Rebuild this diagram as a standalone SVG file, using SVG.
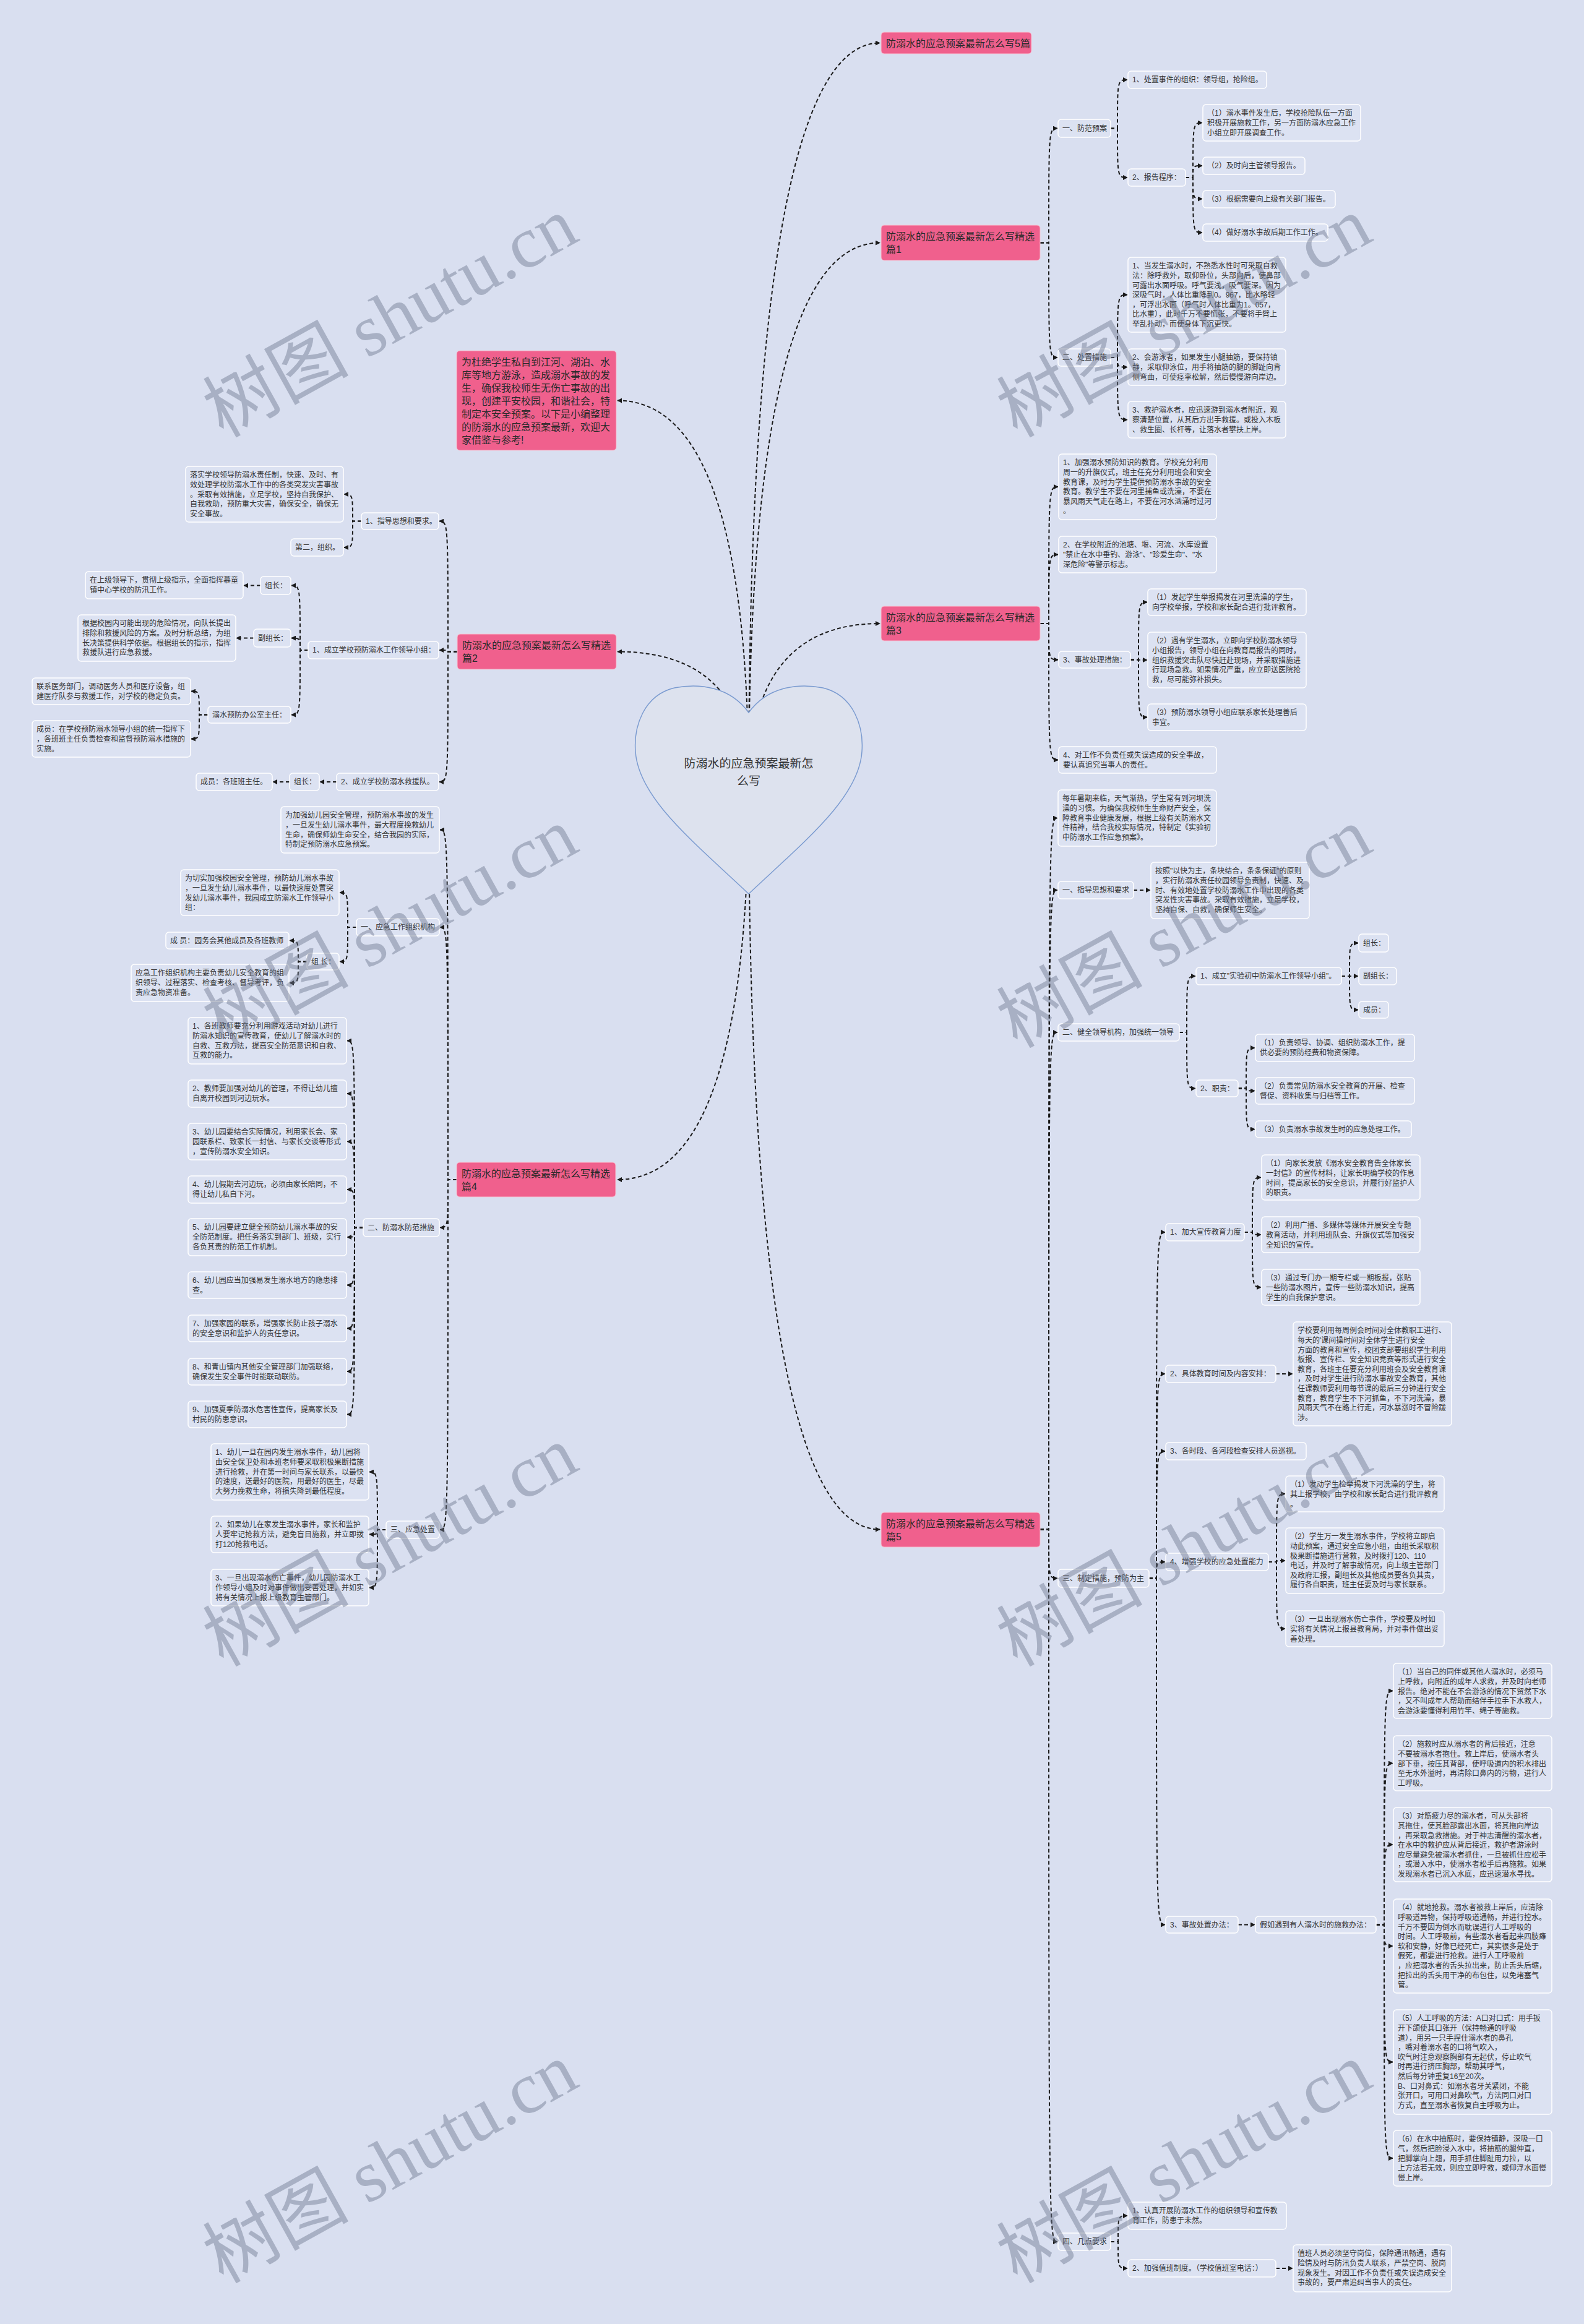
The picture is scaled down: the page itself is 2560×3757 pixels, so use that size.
<svg xmlns="http://www.w3.org/2000/svg" width="2560" height="3757" viewBox="0 0 2560 3757">
<defs>
<style>
.n{fill:#dce2f2;stroke:#ffffff;stroke-width:1.5}
.p{fill:#f0608d;stroke:#f7c3d3;stroke-width:1}
.t{font-family:"Liberation Sans","Noto Sans CJK SC",sans-serif;font-size:12px;fill:#333}
.tp{font-family:"Liberation Sans","Noto Sans CJK SC",sans-serif;font-size:16px;fill:#2a2a2a}
.th{font-family:"Liberation Sans","Noto Sans CJK SC",sans-serif;font-size:19px;fill:#333}
.c path{fill:none;stroke:#1a1a1a;stroke-width:2;stroke-dasharray:6 4;marker-end:url(#a)}
.w{font-family:"Liberation Serif","Noto Sans CJK SC",serif;font-size:118px;fill:#6e788f;opacity:0.45}
</style>
<marker id="a" viewBox="0 0 10 10" refX="9" refY="5" markerWidth="8" markerHeight="8" markerUnits="userSpaceOnUse" orient="auto"><path d="M0,0 L10,5 L0,10 z" fill="#1a1a1a"/></marker>
</defs>
<rect width="2560" height="3757" fill="#d9dff0"/>

<g id="connectors" class="c">
<path d="M1210 1275 Q1210 69.5 1422 69.5"/>
<path d="M1210 1275 Q1210 392.5 1422 392.5"/>
<path d="M1210 1275 Q1210 1008 1422 1008"/>
<path d="M1210 1275 Q1210 2472.5 1422 2472.5"/>
<path d="M1210 1275 Q1210 647.5 998 647.5"/>
<path d="M1210 1275 Q1210 1053.5 998 1053.5"/>
<path d="M1210 1275 Q1210 1907 998 1907"/>

<path d="M1681 392.5 H1695 C1695 207.5 1695 207.5 1709 207.5"/>
<path d="M1681 392.5 H1695 C1695 578 1695 578 1709 578"/>
<path d="M1795 207.5 H1806 C1806 129 1806 129 1822 129"/>
<path d="M1795 207.5 H1806 C1806 287 1806 287 1822 287"/>
<path d="M1916 287 H1928 C1928 198.5 1928 198.5 1943 198.5"/>
<path d="M1916 287 H1928 C1928 268 1928 268 1943 268"/>
<path d="M1916 287 H1928 C1928 321.5 1928 321.5 1943 321.5"/>
<path d="M1916 287 H1928 C1928 376 1928 376 1943 376"/>
<path d="M1795 578 H1806 C1806 476.5 1806 476.5 1822 476.5"/>
<path d="M1795 578 H1806 C1806 593.5 1806 593.5 1822 593.5"/>
<path d="M1795 578 H1806 C1806 678.5 1806 678.5 1822 678.5"/>

<path d="M1681 1008 H1695 C1695 787 1695 787 1710 787"/>
<path d="M1681 1008 H1695 C1695 896.5 1695 896.5 1710 896.5"/>
<path d="M1681 1008 H1695 C1695 1066.5 1695 1066.5 1710 1066.5"/>
<path d="M1681 1008 H1695 C1695 1228.5 1695 1228.5 1710 1228.5"/>
<path d="M1827 1066.5 H1840 C1840 973.5 1840 973.5 1854 973.5"/>
<path d="M1827 1066.5 H1840 C1840 1067 1840 1067 1854 1067"/>
<path d="M1827 1066.5 H1840 C1840 1159.5 1840 1159.5 1854 1159.5"/>

<path d="M1681 2472.5 H1695 C1695 1322.5 1695 1322.5 1709 1322.5"/>
<path d="M1681 2472.5 H1695 C1695 1439 1695 1439 1709 1439"/>
<path d="M1681 2472.5 H1695 C1695 1669 1695 1669 1709 1669"/>
<path d="M1681 2472.5 H1695 C1695 2551.5 1695 2551.5 1709 2551.5"/>
<path d="M1681 2472.5 H1695 C1695 3624 1695 3624 1709 3624"/>
<path d="M1832 1439 H1859"/>
<path d="M1906 1669 H1918 C1918 1578 1918 1578 1932 1578"/>
<path d="M1906 1669 H1918 C1918 1759.5 1918 1759.5 1932 1759.5"/>
<path d="M2168 1578 H2181 C2181 1524.5 2181 1524.5 2195 1524.5"/>
<path d="M2168 1578 H2181 C2181 1578 2181 1578 2195 1578"/>
<path d="M2168 1578 H2181 C2181 1632.5 2181 1632.5 2195 1632.5"/>
<path d="M2001 1759.5 H2014 C2014 1694 2014 1694 2028 1694"/>
<path d="M2001 1759.5 H2014 C2014 1763.5 2014 1763.5 2028 1763.5"/>
<path d="M2001 1759.5 H2014 C2014 1825.5 2014 1825.5 2028 1825.5"/>
<path d="M1857 2551.5 H1869 C1869 1992 1869 1992 1883 1992"/>
<path d="M1857 2551.5 H1869 C1869 2221 1869 2221 1883 2221"/>
<path d="M1857 2551.5 H1869 C1869 2346 1869 2346 1883 2346"/>
<path d="M1857 2551.5 H1869 C1869 2525 1869 2525 1883 2525"/>
<path d="M1857 2551.5 H1869 C1869 3111.5 1869 3111.5 1883 3111.5"/>
<path d="M2011 1992 H2024 C2024 1903.5 2024 1903.5 2038 1903.5"/>
<path d="M2011 1992 H2024 C2024 1996 2024 1996 2038 1996"/>
<path d="M2011 1992 H2024 C2024 2081 2024 2081 2038 2081"/>
<path d="M2062 2221 H2089"/>
<path d="M2050 2525 H2063 C2063 2415 2063 2415 2077 2415"/>
<path d="M2050 2525 H2063 C2063 2523 2063 2523 2077 2523"/>
<path d="M2050 2525 H2063 C2063 2633 2063 2633 2077 2633"/>
<path d="M2001 3111.5 H2028"/>
<path d="M2224 3111.5 H2237 C2237 2733.5 2237 2733.5 2251 2733.5"/>
<path d="M2224 3111.5 H2237 C2237 2850.5 2237 2850.5 2251 2850.5"/>
<path d="M2224 3111.5 H2237 C2237 2982 2237 2982 2251 2982"/>
<path d="M2224 3111.5 H2237 C2237 3146 2237 3146 2251 3146"/>
<path d="M2224 3111.5 H2237 C2237 3333.5 2237 3333.5 2251 3333.5"/>
<path d="M2224 3111.5 H2237 C2237 3489 2237 3489 2251 3489"/>
<path d="M1795 3624 H1807 C1807 3582 1807 3582 1822 3582"/>
<path d="M1795 3624 H1807 C1807 3667 1807 3667 1822 3667"/>
<path d="M2062 3667 H2089"/>

<path d="M739 1053.5 H724 C724 842.5 724 842.5 710 842.5"/>
<path d="M739 1053.5 H724 C724 1051 724 1051 710 1051"/>
<path d="M739 1053.5 H724 C724 1264 724 1264 710 1264"/>
<path d="M584 842.5 H570 C570 799 570 799 556 799"/>
<path d="M584 842.5 H570 C570 885 570 885 556 885"/>
<path d="M498 1051 H485 C485 946.5 485 946.5 471 946.5"/>
<path d="M498 1051 H485 C485 1031.5 485 1031.5 471 1031.5"/>
<path d="M498 1051 H485 C485 1155.5 485 1155.5 471 1155.5"/>
<path d="M421 946.5 H394"/>
<path d="M410 1031.5 H382"/>
<path d="M336 1155.5 H322 C322 1117.5 322 1117.5 309 1117.5"/>
<path d="M336 1155.5 H322 C322 1194.5 322 1194.5 309 1194.5"/>
<path d="M544 1264 H517"/>
<path d="M468 1264 H441"/>

<path d="M738 1907 H724 C724 1341.5 724 1341.5 711 1341.5"/>
<path d="M738 1907 H724 C724 1499 724 1499 711 1499"/>
<path d="M738 1907 H724 C724 1984.5 724 1984.5 711 1984.5"/>
<path d="M738 1907 H724 C724 2473 724 2473 711 2473"/>
<path d="M576 1499 H562 C562 1443 562 1443 549 1443"/>
<path d="M576 1499 H562 C562 1554.5 562 1554.5 549 1554.5"/>
<path d="M496 1554.5 H482 C482 1520.5 482 1520.5 468 1520.5"/>
<path d="M496 1554.5 H482 C482 1589 482 1589 468 1589"/>
<path d="M587 1984.5 H573 C573 1682.5 573 1682.5 561 1682.5"/>
<path d="M587 1984.5 H573 C573 1768 573 1768 561 1768"/>
<path d="M587 1984.5 H573 C573 1845.5 573 1845.5 561 1845.5"/>
<path d="M587 1984.5 H573 C573 1923 573 1923 561 1923"/>
<path d="M587 1984.5 H573 C573 2000 573 2000 561 2000"/>
<path d="M587 1984.5 H573 C573 2077.5 573 2077.5 561 2077.5"/>
<path d="M587 1984.5 H573 C573 2147.5 573 2147.5 561 2147.5"/>
<path d="M587 1984.5 H573 C573 2217 573 2217 561 2217"/>
<path d="M587 1984.5 H573 C573 2286.5 573 2286.5 561 2286.5"/>
<path d="M624 2473 H610 C610 2379.5 610 2379.5 597 2379.5"/>
<path d="M624 2473 H610 C610 2480.5 610 2480.5 597 2480.5"/>
<path d="M624 2473 H610 C610 2566.5 610 2566.5 597 2566.5"/>
</g>

<g id="center">
<path d="M1210 1152 C1180 1110 1130 1104 1090 1112 C1040 1124 1024 1175 1027 1215 C1032 1290 1120 1360 1210 1445 C1300 1360 1388 1290 1393 1215 C1396 1175 1380 1124 1330 1112 C1290 1104 1240 1110 1210 1152 Z" fill="#dde2ee" stroke="#7b9bd0" stroke-width="1.5"/>
<text class="th" text-anchor="middle" x="1210" y="1241"><tspan x="1210">防溺水的应急预案最新怎</tspan><tspan x="1210" dy="28">么写</tspan></text>
</g>

<g id="b5top"><rect class="p" x="1424" y="52" width="243" height="35" rx="5"/><text class="tp" x="1432" y="75.5">防溺水的应急预案最新怎么写5篇</text></g>

<g id="b1"><rect class="p" x="1424" y="364" width="257" height="57" rx="5"/><text class="tp" x="1432" y="388"><tspan x="1432">防溺水的应急预案最新怎么写精选</tspan><tspan x="1432" dy="21">篇1</tspan></text></g>
<g id="b1-1"><rect class="n" x="1710" y="193" width="85" height="29" rx="5"/><text class="t" x="1717" y="212">一、防范预案</text></g>
<g id="b1-1-1"><rect class="n" x="1823" y="115" width="224" height="28" rx="5"/><text class="t" x="1830" y="133.4">1、处置事件的组织：领导组，抢险组。</text></g>
<g id="b1-1-2"><rect class="n" x="1823" y="273" width="93" height="28" rx="5"/><text class="t" x="1830" y="291.4">2、报告程序：</text></g>
<g id="b1-1-2-1"><rect class="n" x="1944" y="169" width="255" height="59" rx="5"/><text class="t" x="1951" y="187.4"><tspan x="1951">（1）溺水事件发生后，学校抢险队伍一方面</tspan><tspan x="1951" dy="15.6">积极开展施救工作，另一方面防溺水应急工作</tspan><tspan x="1951" dy="15.6">小组立即开展调查工作。</tspan></text></g>
<g id="b1-1-2-2"><rect class="n" x="1944" y="254" width="165" height="28" rx="5"/><text class="t" x="1951" y="272.4">（2）及时向主管领导报告。</text></g>
<g id="b1-1-2-3"><rect class="n" x="1944" y="308" width="214" height="28" rx="5"/><text class="t" x="1951" y="326.4">（3）根据需要向上级有关部门报告。</text></g>
<g id="b1-1-2-4"><rect class="n" x="1944" y="362" width="202" height="28" rx="5"/><text class="t" x="1951" y="380.4">（4）做好溺水事故后期工作工作。</text></g>
<g id="b1-2"><rect class="n" x="1710" y="564" width="85" height="28" rx="5"/><text class="t" x="1717" y="582.4">二、处置措施</text></g>
<g id="b1-2-1"><rect class="n" x="1823" y="416" width="255" height="121" rx="5"/><text class="t" x="1830" y="434.4"><tspan x="1830">1、当发生溺水时，不熟悉水性时可采取自救</tspan><tspan x="1830" dy="15.6">法：除呼救外，取仰卧位，头部向后，使鼻部</tspan><tspan x="1830" dy="15.6">可露出水面呼吸。呼气要浅，吸气要深。因为</tspan><tspan x="1830" dy="15.6">深吸气时，人体比重降到0。967，比水略轻</tspan><tspan x="1830" dy="15.6">，可浮出水面（呼气时人体比重为1。057，</tspan><tspan x="1830" dy="15.6">比水重），此时千万不要慌张，不要将手臂上</tspan><tspan x="1830" dy="15.6">举乱扑动，而使身体下沉更快。</tspan></text></g>
<g id="b1-2-2"><rect class="n" x="1823" y="564" width="255" height="59" rx="5"/><text class="t" x="1830" y="582.4"><tspan x="1830">2、会游泳者，如果发生小腿抽筋，要保持镇</tspan><tspan x="1830" dy="15.6">静，采取仰泳位，用手将抽筋的腿的脚趾向背</tspan><tspan x="1830" dy="15.6">侧弯曲，可使痉挛松解，然后慢慢游向岸边。</tspan></text></g>
<g id="b1-2-3"><rect class="n" x="1823" y="649" width="255" height="59" rx="5"/><text class="t" x="1830" y="667.4"><tspan x="1830">3、救护溺水者，应迅速游到溺水者附近，观</tspan><tspan x="1830" dy="15.6">察清楚位置，从其后方出手救援。或投入木板</tspan><tspan x="1830" dy="15.6">、救生圈、长杆等，让落水者攀扶上岸。</tspan></text></g>

<g id="b3"><rect class="p" x="1424" y="980" width="257" height="56" rx="5"/><text class="tp" x="1432" y="1004"><tspan x="1432">防溺水的应急预案最新怎么写精选</tspan><tspan x="1432" dy="21">篇3</tspan></text></g>
<g id="b3-1"><rect class="n" x="1711" y="734" width="255" height="106" rx="5"/><text class="t" x="1718" y="752.4"><tspan x="1718">1、加强溺水预防知识的教育。学校充分利用</tspan><tspan x="1718" dy="15.6">周一的升旗仪式，班主任充分利用班会和安全</tspan><tspan x="1718" dy="15.6">教育课，及时为学生提供预防溺水事故的安全</tspan><tspan x="1718" dy="15.6">教育。教学生不要在河里捕鱼或洗澡，不要在</tspan><tspan x="1718" dy="15.6">暴风雨天气走在路上，不要在河水汹涌时过河</tspan><tspan x="1718" dy="15.6">。</tspan></text></g>
<g id="b3-2"><rect class="n" x="1711" y="867" width="255" height="59" rx="5"/><text class="t" x="1718" y="885.4"><tspan x="1718">2、在学校附近的池塘、堰、河流、水库设置</tspan><tspan x="1718" dy="15.6">"禁止在水中垂钓、游泳"、"珍爱生命"、"水</tspan><tspan x="1718" dy="15.6">深危险"等警示标志。</tspan></text></g>
<g id="b3-3"><rect class="n" x="1711" y="1053" width="116" height="27" rx="5"/><text class="t" x="1718" y="1071">3、事故处理措施：</text></g>
<g id="b3-3-1"><rect class="n" x="1855" y="952" width="256" height="43" rx="5"/><text class="t" x="1862" y="970.4"><tspan x="1862">（1）发起学生举报揭发在河里洗澡的学生，</tspan><tspan x="1862" dy="15.6">向学校举报，学校和家长配合进行批评教育。</tspan></text></g>
<g id="b3-3-2"><rect class="n" x="1855" y="1022" width="256" height="90" rx="5"/><text class="t" x="1862" y="1040.4"><tspan x="1862">（2）遇有学生溺水，立即向学校防溺水领导</tspan><tspan x="1862" dy="15.6">小组报告，领导小组在向教育局报告的同时，</tspan><tspan x="1862" dy="15.6">组织救援突击队尽快赶赴现场，并采取措施进</tspan><tspan x="1862" dy="15.6">行现场急救。如果情况严重，应立即送医院抢</tspan><tspan x="1862" dy="15.6">救，尽可能弥补损失。</tspan></text></g>
<g id="b3-3-3"><rect class="n" x="1855" y="1138" width="256" height="43" rx="5"/><text class="t" x="1862" y="1156.4"><tspan x="1862">（3）预防溺水领导小组应联系家长处理善后</tspan><tspan x="1862" dy="15.6">事宜。</tspan></text></g>
<g id="b3-4"><rect class="n" x="1711" y="1207" width="255" height="43" rx="5"/><text class="t" x="1718" y="1225.4"><tspan x="1718">4、对工作不负责任或失误造成的安全事故，</tspan><tspan x="1718" dy="15.6">要认真追究当事人的责任。</tspan></text></g>

<g id="b5"><rect class="p" x="1424" y="2445" width="257" height="56" rx="5"/><text class="tp" x="1432" y="2469"><tspan x="1432">防溺水的应急预案最新怎么写精选</tspan><tspan x="1432" dy="21">篇5</tspan></text></g>
<g id="b5-0"><rect class="n" x="1710" y="1277" width="256" height="91" rx="5"/><text class="t" x="1717" y="1295.4"><tspan x="1717">每年暑期来临，天气渐热，学生常有到河坝洗</tspan><tspan x="1717" dy="15.6">澡的习惯。为确保我校师生生命财产安全，保</tspan><tspan x="1717" dy="15.6">障教育事业健康发展，根据上级有关防溺水文</tspan><tspan x="1717" dy="15.6">件精神，结合我校实际情况，特制定《实验初</tspan><tspan x="1717" dy="15.6">中防溺水工作应急预案》。</tspan></text></g>
<g id="b5-1"><rect class="n" x="1710" y="1425" width="122" height="28" rx="5"/><text class="t" x="1717" y="1443.4">一、指导思想和要求</text></g>
<g id="b5-1-1"><rect class="n" x="1860" y="1394" width="256" height="91" rx="5"/><text class="t" x="1867" y="1412.4"><tspan x="1867">按照"以快为主，条块结合，条条保证"的原则</tspan><tspan x="1867" dy="15.6">，实行防溺水责任校园领导负责制，快速、及</tspan><tspan x="1867" dy="15.6">时、有效地处置学校防溺水工作中出现的各类</tspan><tspan x="1867" dy="15.6">突发性灾害事故。采取有效措施，立足学校，</tspan><tspan x="1867" dy="15.6">坚持自保、自救，确保师生安全。</tspan></text></g>
<g id="b5-2"><rect class="n" x="1710" y="1655" width="196" height="28" rx="5"/><text class="t" x="1717" y="1673.4">二、健全领导机构，加强统一领导</text></g>
<g id="b5-2-1"><rect class="n" x="1933" y="1564" width="235" height="28" rx="5"/><text class="t" x="1940" y="1582.4">1、成立"实验初中防溺水工作领导小组"。</text></g>
<g id="b5-2-1-1"><rect class="n" x="2196" y="1510" width="48" height="29" rx="5"/><text class="t" x="2203" y="1529">组长：</text></g>
<g id="b5-2-1-2"><rect class="n" x="2196" y="1564" width="61" height="28" rx="5"/><text class="t" x="2203" y="1582.4">副组长：</text></g>
<g id="b5-2-1-3"><rect class="n" x="2196" y="1619" width="48" height="27" rx="5"/><text class="t" x="2203" y="1637">成员：</text></g>
<g id="b5-2-2"><rect class="n" x="1933" y="1746" width="68" height="27" rx="5"/><text class="t" x="1940" y="1764">2、职责：</text></g>
<g id="b5-2-2-1"><rect class="n" x="2029" y="1672" width="257" height="44" rx="5"/><text class="t" x="2036" y="1690.4"><tspan x="2036">（1）负责领导、协调、组织防溺水工作，提</tspan><tspan x="2036" dy="15.6">供必要的预防经费和物资保障。</tspan></text></g>
<g id="b5-2-2-2"><rect class="n" x="2029" y="1742" width="257" height="43" rx="5"/><text class="t" x="2036" y="1760.4"><tspan x="2036">（2）负责常见防溺水安全教育的开展、检查</tspan><tspan x="2036" dy="15.6">督促、资料收集与归档等工作。</tspan></text></g>
<g id="b5-2-2-3"><rect class="n" x="2029" y="1812" width="252" height="27" rx="5"/><text class="t" x="2036" y="1830">（3）负责溺水事故发生时的应急处理工作。</text></g>
<g id="b5-3"><rect class="n" x="1710" y="2537" width="147" height="29" rx="5"/><text class="t" x="1717" y="2556">三、制定措施，预防为主</text></g>
<g id="b5-3-1"><rect class="n" x="1884" y="1978" width="127" height="28" rx="5"/><text class="t" x="1891" y="1996.4">1、加大宣传教育力度</text></g>
<g id="b5-3-1-1"><rect class="n" x="2039" y="1867" width="256" height="73" rx="5"/><text class="t" x="2046" y="1885.4"><tspan x="2046">（1）向家长发放《溺水安全教育告全体家长</tspan><tspan x="2046" dy="15.6">一封信》的宣传材料，让家长明确学校的作息</tspan><tspan x="2046" dy="15.6">时间，提高家长的安全意识，并履行好监护人</tspan><tspan x="2046" dy="15.6">的职责。</tspan></text></g>
<g id="b5-3-1-2"><rect class="n" x="2039" y="1967" width="256" height="58" rx="5"/><text class="t" x="2046" y="1985.4"><tspan x="2046">（2）利用广播、多媒体等媒体开展安全专题</tspan><tspan x="2046" dy="15.6">教育活动，并利用班队会、升旗仪式等加强安</tspan><tspan x="2046" dy="15.6">全知识的宣传。</tspan></text></g>
<g id="b5-3-1-3"><rect class="n" x="2039" y="2052" width="256" height="58" rx="5"/><text class="t" x="2046" y="2070.4"><tspan x="2046">（3）通过专门办一期专栏或一期板报，张贴</tspan><tspan x="2046" dy="15.6">一些防溺水图片，宣传一些防溺水知识，提高</tspan><tspan x="2046" dy="15.6">学生的自我保护意识。</tspan></text></g>
<g id="b5-3-2"><rect class="n" x="1884" y="2207" width="178" height="28" rx="5"/><text class="t" x="1891" y="2225.4">2、具体教育时间及内容安排：</text></g>
<g id="b5-3-2-1"><rect class="n" x="2090" y="2137" width="256" height="168" rx="5"/><text class="t" x="2097" y="2155.4"><tspan x="2097">学校要利用每周例会时间对全体教职工进行、</tspan><tspan x="2097" dy="15.6">每天的'课间操时间对全体学生进行安全</tspan><tspan x="2097" dy="15.6">方面的教育和宣传，校团支部要组织学生利用</tspan><tspan x="2097" dy="15.6">板报、宣传栏、安全知识竞赛等形式进行安全</tspan><tspan x="2097" dy="15.6">教育，各班主任要充分利用班会及安全教育课</tspan><tspan x="2097" dy="15.6">，及时对学生进行防溺水事故安全教育，其他</tspan><tspan x="2097" dy="15.6">任课教师要利用每节课的最后三分钟进行安全</tspan><tspan x="2097" dy="15.6">教育，教育学生不下河抓鱼，不下河洗澡，暴</tspan><tspan x="2097" dy="15.6">风雨天气不在路上行走，河水暴涨时不冒险跋</tspan><tspan x="2097" dy="15.6">涉。</tspan></text></g>
<g id="b5-3-3"><rect class="n" x="1884" y="2332" width="227" height="28" rx="5"/><text class="t" x="1891" y="2350.4">3、各时段、各河段检查安排人员巡视。</text></g>
<g id="b5-3-4"><rect class="n" x="1884" y="2511" width="166" height="28" rx="5"/><text class="t" x="1891" y="2529.4">4、增强学校的应急处置能力</text></g>
<g id="b5-3-4-1"><rect class="n" x="2078" y="2386" width="256" height="58" rx="5"/><text class="t" x="2085" y="2404.4"><tspan x="2085">（1）发动学生检举揭发下河洗澡的学生，将</tspan><tspan x="2085" dy="15.6">其上报学校，由学校和家长配合进行批评教育</tspan><tspan x="2085" dy="15.6">。</tspan></text></g>
<g id="b5-3-4-2"><rect class="n" x="2078" y="2470" width="256" height="106" rx="5"/><text class="t" x="2085" y="2488.4"><tspan x="2085">（2）学生万一发生溺水事件，学校将立即启</tspan><tspan x="2085" dy="15.6">动此预案，通过安全应急小组，由组长采取积</tspan><tspan x="2085" dy="15.6">极果断措施进行营救，及时拨打120、110</tspan><tspan x="2085" dy="15.6">电话，并及时了解事故情况，向上级主管部门</tspan><tspan x="2085" dy="15.6">及政府汇报，副组长及其他成员要各负其责，</tspan><tspan x="2085" dy="15.6">履行各自职责，班主任要及时与家长联系。</tspan></text></g>
<g id="b5-3-4-3"><rect class="n" x="2078" y="2604" width="256" height="58" rx="5"/><text class="t" x="2085" y="2622.4"><tspan x="2085">（3）一旦出现溺水伤亡事件，学校要及时如</tspan><tspan x="2085" dy="15.6">实将有关情况上报县教育局，并对事件做出妥</tspan><tspan x="2085" dy="15.6">善处理。</tspan></text></g>
<g id="b5-3-5"><rect class="n" x="1884" y="3098" width="117" height="27" rx="5"/><text class="t" x="1891" y="3116">3、事故处置办法：</text></g>
<g id="b5-3-5-1"><rect class="n" x="2029" y="3098" width="195" height="27" rx="5"/><text class="t" x="2036" y="3116">假如遇到有人溺水时的施救办法：</text></g>
<g id="r1"><rect class="n" x="2252" y="2689" width="256" height="89" rx="5"/><text class="t" x="2259" y="2707.4"><tspan x="2259">（1）当自己的同伴或其他人溺水时，必须马</tspan><tspan x="2259" dy="15.6">上呼救，向附近的成年人求救，并及时向老师</tspan><tspan x="2259" dy="15.6">报告。绝对不能在不会游泳的情况下贸然下水</tspan><tspan x="2259" dy="15.6">，又不叫成年人帮助而结伴手拉手下水救人，</tspan><tspan x="2259" dy="15.6">会游泳要懂得利用竹竿、绳子等施救。</tspan></text></g>
<g id="r2"><rect class="n" x="2252" y="2806" width="256" height="89" rx="5"/><text class="t" x="2259" y="2824.4"><tspan x="2259">（2）施救时应从溺水者的背后接近，注意</tspan><tspan x="2259" dy="15.6">不要被溺水者抱住。救上岸后，使溺水者头</tspan><tspan x="2259" dy="15.6">部下垂，按压其背部，使呼吸道内的积水排出</tspan><tspan x="2259" dy="15.6">至无水外溢时，再清除口鼻内的污物，进行人</tspan><tspan x="2259" dy="15.6">工呼吸。</tspan></text></g>
<g id="r3"><rect class="n" x="2252" y="2922" width="256" height="120" rx="5"/><text class="t" x="2259" y="2940.4"><tspan x="2259">（3）对筋疲力尽的溺水者，可从头部将</tspan><tspan x="2259" dy="15.6">其拖住，使其脸部露出水面，将其拖向岸边</tspan><tspan x="2259" dy="15.6">，再采取急救措施。对于神志清醒的溺水者，</tspan><tspan x="2259" dy="15.6">在水中的救护应从背后接近，救护者游泳时</tspan><tspan x="2259" dy="15.6">应尽量避免被溺水者抓住，一旦被抓住应松手</tspan><tspan x="2259" dy="15.6">，或潜入水中，使溺水者松手后再施救。如果</tspan><tspan x="2259" dy="15.6">发现溺水者已沉入水底，应迅速潜水寻找。</tspan></text></g>
<g id="r4"><rect class="n" x="2252" y="3070" width="256" height="152" rx="5"/><text class="t" x="2259" y="3088.4"><tspan x="2259">（4）就地抢救。溺水者被救上岸后，应清除</tspan><tspan x="2259" dy="15.6">呼吸道异物，保持呼吸道通畅，并进行控水。</tspan><tspan x="2259" dy="15.6">千万不要因为倒水而耽误进行人工呼吸的</tspan><tspan x="2259" dy="15.6">时间。人工呼吸前，有些溺水者看起来四肢瘫</tspan><tspan x="2259" dy="15.6">软和安静，好像已经死亡，其实很多是处于</tspan><tspan x="2259" dy="15.6">假死，都要进行抢救。进行人工呼吸前</tspan><tspan x="2259" dy="15.6">，应把溺水者的舌头拉出来，防止舌头后缩，</tspan><tspan x="2259" dy="15.6">把拉出的舌头用干净的布包住，以免堵塞气</tspan><tspan x="2259" dy="15.6">管。</tspan></text></g>
<g id="r5"><rect class="n" x="2252" y="3249" width="256" height="169" rx="5"/><text class="t" x="2259" y="3267.4"><tspan x="2259">（5）人工呼吸的方法：A口对口式：用手扳</tspan><tspan x="2259" dy="15.6">开下颌使其口张开（保持畅通的呼吸</tspan><tspan x="2259" dy="15.6">道），用另一只手捏住溺水者的鼻孔</tspan><tspan x="2259" dy="15.6">，嘴对着溺水者的口将气吹入，</tspan><tspan x="2259" dy="15.6">吹气时注意观察胸部有无起伏，停止吹气</tspan><tspan x="2259" dy="15.6">时再进行挤压胸部，帮助其呼气，</tspan><tspan x="2259" dy="15.6">然后每分钟重复16至20次。</tspan><tspan x="2259" dy="15.6">B、口对鼻式：如溺水者牙关紧闭，不能</tspan><tspan x="2259" dy="15.6">张开口，可用口对鼻吹气，方法同口对口</tspan><tspan x="2259" dy="15.6">方式，直至溺水者恢复自主呼吸为止。</tspan></text></g>
<g id="r6"><rect class="n" x="2252" y="3444" width="256" height="90" rx="5"/><text class="t" x="2259" y="3462.4"><tspan x="2259">（6）在水中抽筋时，要保持镇静，深吸一口</tspan><tspan x="2259" dy="15.6">气，然后把脸浸入水中，将抽筋的腿伸直，</tspan><tspan x="2259" dy="15.6">把脚掌向上翘，用手抓住脚趾用力拉，以</tspan><tspan x="2259" dy="15.6">上方法若无效，则应立即呼救，或仰浮水面慢</tspan><tspan x="2259" dy="15.6">慢上岸。</tspan></text></g>
<g id="b5-4"><rect class="n" x="1710" y="3610" width="85" height="28" rx="5"/><text class="t" x="1717" y="3628.4">四、几点要求</text></g>
<g id="b5-4-1"><rect class="n" x="1823" y="3560" width="256" height="44" rx="5"/><text class="t" x="1830" y="3578.4"><tspan x="1830">1、认真开展防溺水工作的组织领导和宣传教</tspan><tspan x="1830" dy="15.6">育工作，防患于未然。</tspan></text></g>
<g id="b5-4-2"><rect class="n" x="1823" y="3653" width="239" height="28" rx="5"/><text class="t" x="1830" y="3671.4">2、加强值班制度。（学校值班室电话：）</text></g>
<g id="b5-4-2-1"><rect class="n" x="2090" y="3629" width="256" height="76" rx="5"/><text class="t" x="2097" y="3647.4"><tspan x="2097">值班人员必须坚守岗位，保障通讯畅通，遇有</tspan><tspan x="2097" dy="15.6">险情及时与防汛负责人联系，严禁空岗、脱岗</tspan><tspan x="2097" dy="15.6">现象发生。对因工作不负责任或失误造成安全</tspan><tspan x="2097" dy="15.6">事故的，要严肃追纠当事人的责任。</tspan></text></g>

<g id="intro"><rect class="p" x="738" y="567" width="258" height="161" rx="5"/><text class="tp" x="746" y="591"><tspan x="746">为杜绝学生私自到江河、湖泊、水</tspan><tspan x="746" dy="21">库等地方游泳，造成溺水事故的发</tspan><tspan x="746" dy="21">生，确保我校师生无伤亡事故的出</tspan><tspan x="746" dy="21">现，创建平安校园，和谐社会，特</tspan><tspan x="746" dy="21">制定本安全预案。以下是小编整理</tspan><tspan x="746" dy="21">的防溺水的应急预案最新，欢迎大</tspan><tspan x="746" dy="21">家借鉴与参考!</tspan></text></g>

<g id="b2"><rect class="p" x="739" y="1025" width="257" height="57" rx="5"/><text class="tp" x="747" y="1049"><tspan x="747">防溺水的应急预案最新怎么写精选</tspan><tspan x="747" dy="21">篇2</tspan></text></g>
<g id="b2-1"><rect class="n" x="584" y="829" width="125" height="27" rx="5"/><text class="t" x="591" y="847">1、指导思想和要求。</text></g>
<g id="b2-1-1"><rect class="n" x="300" y="754" width="255" height="90" rx="5"/><text class="t" x="307" y="772.4"><tspan x="307">落实学校领导防溺水责任制，快速、及时、有</tspan><tspan x="307" dy="15.6">效处理学校防溺水工作中的各类突发灾害事故</tspan><tspan x="307" dy="15.6">。采取有效措施，立足学校，坚持自我保护、</tspan><tspan x="307" dy="15.6">自我救助，预防重大灾害，确保安全，确保无</tspan><tspan x="307" dy="15.6">安全事故。</tspan></text></g>
<g id="b2-1-2"><rect class="n" x="470" y="871" width="85" height="28" rx="5"/><text class="t" x="477" y="889.4">第二，组织。</text></g>
<g id="b2-2"><rect class="n" x="498" y="1037" width="211" height="28" rx="5"/><text class="t" x="505" y="1055.4">1、成立学校预防溺水工作领导小组：</text></g>
<g id="b2-2-1"><rect class="n" x="421" y="932" width="49" height="29" rx="5"/><text class="t" x="428" y="951">组长：</text></g>
<g id="b2-2-1-1"><rect class="n" x="138" y="924" width="255" height="44" rx="5"/><text class="t" x="145" y="942.4"><tspan x="145">在上级领导下，贯彻上级指示，全面指挥慕童</tspan><tspan x="145" dy="15.6">镇中心学校的防汛工作。</tspan></text></g>
<g id="b2-2-2"><rect class="n" x="410" y="1017" width="60" height="29" rx="5"/><text class="t" x="417" y="1036">副组长：</text></g>
<g id="b2-2-2-1"><rect class="n" x="126" y="994" width="255" height="75" rx="5"/><text class="t" x="133" y="1012.4"><tspan x="133">根据校园内可能出现的危险情况，向队长提出</tspan><tspan x="133" dy="15.6">排除和救援风险的方案。及时分析总结，为组</tspan><tspan x="133" dy="15.6">长决策提供科学依据。根据组长的指示，指挥</tspan><tspan x="133" dy="15.6">救援队进行应急救援。</tspan></text></g>
<g id="b2-2-3"><rect class="n" x="336" y="1142" width="134" height="27" rx="5"/><text class="t" x="343" y="1160">溺水预防办公室主任：</text></g>
<g id="b2-2-3-1"><rect class="n" x="52" y="1096" width="256" height="43" rx="5"/><text class="t" x="59" y="1114.4"><tspan x="59">联系医务部门，调动医务人员和医疗设备，组</tspan><tspan x="59" dy="15.6">建医疗队参与救援工作，对学校的稳定负责。</tspan></text></g>
<g id="b2-2-3-2"><rect class="n" x="52" y="1165" width="256" height="59" rx="5"/><text class="t" x="59" y="1183.4"><tspan x="59">成员：在学校预防溺水领导小组的统一指挥下</tspan><tspan x="59" dy="15.6">，各班班主任负责检查和监督预防溺水措施的</tspan><tspan x="59" dy="15.6">实施。</tspan></text></g>
<g id="b2-3"><rect class="n" x="544" y="1250" width="165" height="28" rx="5"/><text class="t" x="551" y="1268.4">2、成立学校防溺水救援队。</text></g>
<g id="b2-3-1"><rect class="n" x="468" y="1250" width="48" height="28" rx="5"/><text class="t" x="475" y="1268.4">组长：</text></g>
<g id="b2-3-1-1"><rect class="n" x="317" y="1250" width="123" height="28" rx="5"/><text class="t" x="324" y="1268.4">成员：各班班主任。</text></g>

<g id="b4"><rect class="p" x="738" y="1879" width="257" height="56" rx="5"/><text class="tp" x="746" y="1903"><tspan x="746">防溺水的应急预案最新怎么写精选</tspan><tspan x="746" dy="21">篇4</tspan></text></g>
<g id="b4-0"><rect class="n" x="454" y="1304" width="256" height="75" rx="5"/><text class="t" x="461" y="1322.4"><tspan x="461">为加强幼儿园安全管理，预防溺水事故的发生</tspan><tspan x="461" dy="15.6">，一旦发生幼儿溺水事件，最大程度挽救幼儿</tspan><tspan x="461" dy="15.6">生命，确保师幼生命安全，结合我园的实际，</tspan><tspan x="461" dy="15.6">特制定预防溺水应急预案。</tspan></text></g>
<g id="b4-1"><rect class="n" x="576" y="1485" width="134" height="28" rx="5"/><text class="t" x="583" y="1503.4">一、应急工作组织机构</text></g>
<g id="b4-1-1"><rect class="n" x="292" y="1406" width="256" height="74" rx="5"/><text class="t" x="299" y="1424.4"><tspan x="299">为切实加强校园安全管理，预防幼儿溺水事故</tspan><tspan x="299" dy="15.6">，一旦发生幼儿溺水事件，以最快速度处置突</tspan><tspan x="299" dy="15.6">发幼儿溺水事件，我园成立防溺水工作领导小</tspan><tspan x="299" dy="15.6">组：</tspan></text></g>
<g id="b4-1-2"><rect class="n" x="496" y="1541" width="52" height="27" rx="5"/><text class="t" x="503" y="1559">组 长：</text></g>
<g id="b4-1-2-1"><rect class="n" x="268" y="1507" width="199" height="27" rx="5"/><text class="t" x="275" y="1525">成 员：园务会其他成员及各班教师</text></g>
<g id="b4-1-2-2"><rect class="n" x="212" y="1559" width="255" height="60" rx="5"/><text class="t" x="219" y="1577.4"><tspan x="219">应急工作组织机构主要负责幼儿安全教育的组</tspan><tspan x="219" dy="15.6">织领导、过程落实、检查考核、督导考评，负</tspan><tspan x="219" dy="15.6">责应急物资准备。</tspan></text></g>
<g id="b4-2"><rect class="n" x="587" y="1970" width="123" height="29" rx="5"/><text class="t" x="594" y="1989">二、防溺水防范措施</text></g>
<g id="b4-2-1"><rect class="n" x="304" y="1645" width="256" height="75" rx="5"/><text class="t" x="311" y="1663.4"><tspan x="311">1、各班教师要充分利用游戏活动对幼儿进行</tspan><tspan x="311" dy="15.6">防溺水知识的宣传教育，使幼儿了解溺水时的</tspan><tspan x="311" dy="15.6">自救、互救方法，提高安全防范意识和自救、</tspan><tspan x="311" dy="15.6">互救的能力。</tspan></text></g>
<g id="b4-2-2"><rect class="n" x="304" y="1746" width="256" height="44" rx="5"/><text class="t" x="311" y="1764.4"><tspan x="311">2、教师要加强对幼儿的管理，不得让幼儿擅</tspan><tspan x="311" dy="15.6">自离开校园到河边玩水。</tspan></text></g>
<g id="b4-2-3"><rect class="n" x="304" y="1816" width="256" height="59" rx="5"/><text class="t" x="311" y="1834.4"><tspan x="311">3、幼儿园要结合实际情况，利用家长会、家</tspan><tspan x="311" dy="15.6">园联系栏、致家长一封信、与家长交谈等形式</tspan><tspan x="311" dy="15.6">，宣传防溺水安全知识。</tspan></text></g>
<g id="b4-2-4"><rect class="n" x="304" y="1901" width="256" height="44" rx="5"/><text class="t" x="311" y="1919.4"><tspan x="311">4、幼儿假期去河边玩，必须由家长陪同，不</tspan><tspan x="311" dy="15.6">得让幼儿私自下河。</tspan></text></g>
<g id="b4-2-5"><rect class="n" x="304" y="1970" width="256" height="60" rx="5"/><text class="t" x="311" y="1988.4"><tspan x="311">5、幼儿园要建立健全预防幼儿溺水事故的安</tspan><tspan x="311" dy="15.6">全防范制度。把任务落实到部门、班级，实行</tspan><tspan x="311" dy="15.6">各负其责的防范工作机制。</tspan></text></g>
<g id="b4-2-6"><rect class="n" x="304" y="2056" width="256" height="43" rx="5"/><text class="t" x="311" y="2074.4"><tspan x="311">6、幼儿园应当加强易发生溺水地方的隐患排</tspan><tspan x="311" dy="15.6">查。</tspan></text></g>
<g id="b4-2-7"><rect class="n" x="304" y="2126" width="256" height="43" rx="5"/><text class="t" x="311" y="2144.4"><tspan x="311">7、加强家园的联系，增强家长防止孩子溺水</tspan><tspan x="311" dy="15.6">的安全意识和监护人的责任意识。</tspan></text></g>
<g id="b4-2-8"><rect class="n" x="304" y="2196" width="256" height="43" rx="5"/><text class="t" x="311" y="2214.4"><tspan x="311">8、和青山镇内其他安全管理部门加强联络，</tspan><tspan x="311" dy="15.6">确保发生安全事件时能联动联防。</tspan></text></g>
<g id="b4-2-9"><rect class="n" x="304" y="2265" width="256" height="43" rx="5"/><text class="t" x="311" y="2283.4"><tspan x="311">9、加强夏季防溺水危害性宣传，提高家长及</tspan><tspan x="311" dy="15.6">村民的防患意识。</tspan></text></g>
<g id="b4-3"><rect class="n" x="624" y="2459" width="86" height="28" rx="5"/><text class="t" x="631" y="2477.4">三、应急处置</text></g>
<g id="b4-3-1"><rect class="n" x="341" y="2334" width="255" height="91" rx="5"/><text class="t" x="348" y="2352.4"><tspan x="348">1、幼儿一旦在园内发生溺水事件，幼儿园将</tspan><tspan x="348" dy="15.6">由安全保卫处和本班老师要采取积极果断措施</tspan><tspan x="348" dy="15.6">进行抢救，并在第一时间与家长联系，以最快</tspan><tspan x="348" dy="15.6">的速度，送最好的医院，用最好的医生，尽最</tspan><tspan x="348" dy="15.6">大努力挽救生命，将损失降到最低程度。</tspan></text></g>
<g id="b4-3-2"><rect class="n" x="341" y="2451" width="255" height="59" rx="5"/><text class="t" x="348" y="2469.4"><tspan x="348">2、如果幼儿在家发生溺水事件，家长和监护</tspan><tspan x="348" dy="15.6">人要牢记抢救方法，避免盲目施救，并立即拨</tspan><tspan x="348" dy="15.6">打120抢救电话。</tspan></text></g>
<g id="b4-3-3"><rect class="n" x="341" y="2537" width="255" height="59" rx="5"/><text class="t" x="348" y="2555.4"><tspan x="348">3、一旦出现溺水伤亡事件，幼儿园防溺水工</tspan><tspan x="348" dy="15.6">作领导小组及时对事件做出妥善处理，并如实</tspan><tspan x="348" dy="15.6">将有关情况上报上级教育主管部门。</tspan></text></g>

<g id="watermarks">
<text class="w" text-anchor="middle" transform="translate(650 548) rotate(-29)">树图 shutu.cn</text>
<text class="w" text-anchor="middle" transform="translate(1933 548) rotate(-29)">树图 shutu.cn</text>
<text class="w" text-anchor="middle" transform="translate(650 1535) rotate(-29)">树图 shutu.cn</text>
<text class="w" text-anchor="middle" transform="translate(1933 1535) rotate(-29)">树图 shutu.cn</text>
<text class="w" text-anchor="middle" transform="translate(650 2535) rotate(-29)">树图 shutu.cn</text>
<text class="w" text-anchor="middle" transform="translate(1933 2535) rotate(-29)">树图 shutu.cn</text>
<text class="w" text-anchor="middle" transform="translate(650 3532) rotate(-29)">树图 shutu.cn</text>
<text class="w" text-anchor="middle" transform="translate(1933 3532) rotate(-29)">树图 shutu.cn</text>
</g>
</svg>
